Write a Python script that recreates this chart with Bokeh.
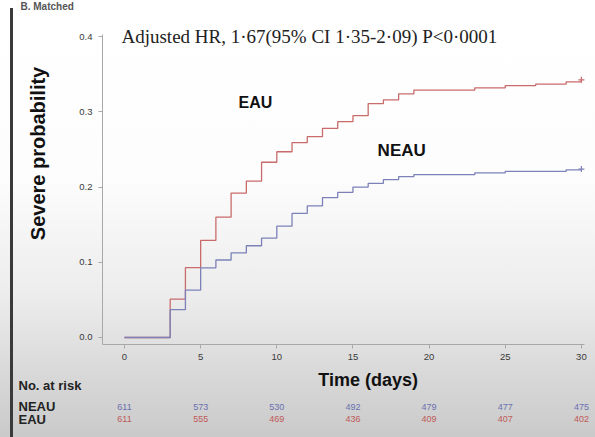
import math
from bokeh.plotting import figure
from bokeh.models import Label, ColumnDataSource, FixedTicker, NumeralTickFormatter, Range1d
from bokeh.core.properties import value
from bokeh.embed import file_html
from bokeh.resources import INLINE

# ---- data ----
eau_t = [0, 3, 4, 5, 6, 7, 8, 9, 10, 11, 12, 13, 14, 15, 16, 17, 18, 19, 23, 25, 27, 29, 30]
eau_p = [0, 0.051, 0.093, 0.129, 0.160, 0.192, 0.208, 0.233, 0.247, 0.259, 0.267, 0.278,
         0.287, 0.295, 0.311, 0.316, 0.324, 0.329, 0.332, 0.335, 0.337, 0.340, 0.3426]
neau_t = [0, 3, 4, 5, 6, 7, 8, 9, 10, 11, 12, 13, 14, 15, 16, 17, 18, 19, 23, 25, 29, 30]
neau_p = [0, 0.037, 0.063, 0.0925, 0.103, 0.1125, 0.122, 0.132, 0.148, 0.165, 0.175, 0.186,
          0.193, 0.200, 0.205, 0.210, 0.214, 0.2165, 0.219, 0.221, 0.223, 0.224]
risk_times = [0, 5, 10, 15, 20, 25, 30]
risk_neau = [611, 573, 530, 492, 479, 477, 475]
risk_eau = [611, 555, 469, 436, 409, 407, 402]
x_ticks = [0, 5, 10, 15, 20, 25, 30]
y_ticks = [0.0, 0.1, 0.2, 0.3, 0.4]

RED = "#c96b6b"
BLUE = "#7c82b8"
SANS = "Liberation Sans"

p = figure(width=595, height=437, output_backend="svg", toolbar_location=None,
           x_range=Range1d(-8.142, 30.926), y_range=Range1d(-0.1330, 0.4481),
           min_border=0)
p.border_fill_alpha = 0
p.background_fill_alpha = 0
p.outline_line_color = None
p.grid.visible = False
p.styles = {
    "background-image": "linear-gradient(to right, rgba(0,0,0,0) 10px, #3a3a3a 10px, #3a3a3a 13px, rgba(0,0,0,0) 13px), "
                        "linear-gradient(to bottom, #ffffff 0%, #fdfdfd 40%, #ececec 68%, #d8d8d8 86%, #cacaca 100%)",
    "background-position": "0 8px, 0 0",
    "background-repeat": "no-repeat",
}

p.step(eau_t, eau_p, mode="after", line_color=RED, line_width=1.3)
p.step(neau_t, neau_p, mode="after", line_color=BLUE, line_width=1.3)
p.scatter([eau_t[-1]], [eau_p[-1]], marker="cross", size=6, line_color=RED, line_width=1.2)
p.scatter([neau_t[-1]], [neau_p[-1]], marker="cross", size=6, line_color=BLUE, line_width=1.2)

for ax in (p.xaxis[0], p.yaxis[0]):
    ax.axis_line_color = "#a8a8a8"
    ax.major_tick_line_color = "#a8a8a8"
    ax.minor_tick_line_color = None
    ax.major_tick_in = 0
    ax.major_tick_out = 4
    ax.major_label_text_font = SANS
    ax.major_label_text_font_size = "9.5px"
    ax.major_label_text_color = "#3a3a3a"

p.xaxis.fixed_location = -0.0093
p.yaxis.fixed_location = -1.445
p.xaxis.bounds = (-1.445, 30.2)
p.yaxis.bounds = (-0.0093, 0.4027)
p.xaxis.ticker = FixedTicker(ticks=x_ticks)
p.yaxis.ticker = FixedTicker(ticks=y_ticks)
p.yaxis.formatter = NumeralTickFormatter(format="0.0")
p.xaxis.major_label_standoff = 6
p.yaxis.major_label_standoff = 6

# axis titles (placed where the reference has them)
p.add_layout(Label(x=-5.71, y=0.2447, text="Severe probability", angle=math.pi / 2,
                   text_font=SANS, text_font_style="bold", text_font_size="20px",
                   text_color="#111111", text_align="center", text_baseline="middle"))
p.add_layout(Label(x=16.0, y=-0.0572, text="Time (days)", text_font=SANS, text_font_style="bold",
                   text_font_size="18px", text_color="#111111", text_align="center", text_baseline="middle"))

p.add_layout(Label(x=-6.83, y=0.4402, text="B. Matched", text_font=SANS, text_font_style="bold",
                   text_font_size="10px", text_color="#555555", text_baseline="middle"))
p.add_layout(Label(x=-0.2, y=0.4, text="Adjusted HR, 1\u00b767(95% CI 1\u00b735-2\u00b709) P<0\u00b70001",
                   text_font="Liberation Serif", text_font_size="19px", text_color="#222222",
                   text_baseline="middle", text_align="left"))
p.add_layout(Label(x=8.6, y=0.312, text="EAU", text_font=SANS, text_font_style="bold",
                   text_font_size="16px", text_color="#111111", text_align="center", text_baseline="middle"))
p.add_layout(Label(x=18.2, y=0.248, text="NEAU", text_font=SANS, text_font_style="bold",
                   text_font_size="17px", text_color="#111111", text_align="center", text_baseline="middle"))

# at-risk table
p.add_layout(Label(x=-6.96, y=-0.0639, text="No. at risk", text_font=SANS, text_font_style="bold",
                   text_font_size="13px", text_color="#222222", text_baseline="middle"))
p.add_layout(Label(x=-6.96, y=-0.0918, text="NEAU", text_font=SANS, text_font_style="bold",
                   text_font_size="13px", text_color="#222222", text_baseline="middle"))
p.add_layout(Label(x=-6.96, y=-0.1090, text="EAU", text_font=SANS, text_font_style="bold",
                   text_font_size="13px", text_color="#222222", text_baseline="middle"))
src_n = ColumnDataSource(dict(x=risk_times, y=[-0.0918] * len(risk_times), t=[str(v) for v in risk_neau]))
src_e = ColumnDataSource(dict(x=risk_times, y=[-0.1090] * len(risk_times), t=[str(v) for v in risk_eau]))
p.text(x="x", y="y", text="t", source=src_n, text_font=value(SANS), text_font_size="9px",
       text_color="#6a70b0", text_align="center", text_baseline="middle")
p.text(x="x", y="y", text="t", source=src_e, text_font=value(SANS), text_font_size="9px",
       text_color="#c05a5a", text_align="center", text_baseline="middle")

open("out.html", "w").write(file_html(p, INLINE))
